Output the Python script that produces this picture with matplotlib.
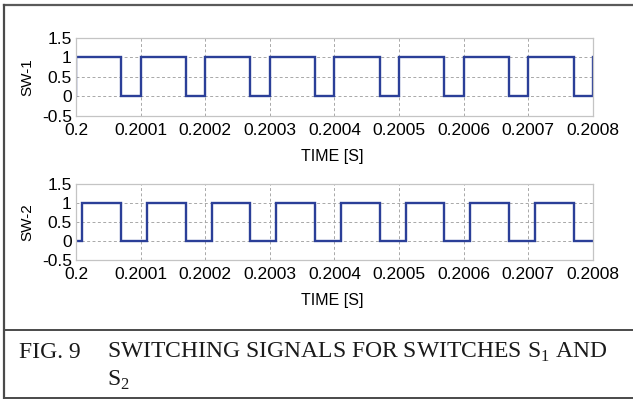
import matplotlib
matplotlib.use("Agg")
import matplotlib.pyplot as plt
from matplotlib.lines import Line2D

# ---- data ----
t_sw1 = [0.2, 0.2, 0.20007, 0.2001, 0.20017, 0.2002, 0.20027, 0.2003, 0.20037,
         0.2004, 0.20047, 0.2005, 0.20057, 0.2006, 0.20067, 0.2007, 0.20077, 0.2008]
v_sw1 = [0, 1, 0, 1, 0, 1, 0, 1, 0, 1, 0, 1, 0, 1, 0, 1, 0, 1]
t_sw2 = [0.2, 0.20001, 0.20007, 0.20011, 0.20017, 0.20021, 0.20027, 0.20031, 0.20037,
         0.20041, 0.20047, 0.20051, 0.20057, 0.20061, 0.20067, 0.20071, 0.20077, 0.2008]
v_sw2 = [0, 1, 0, 1, 0, 1, 0, 1, 0, 1, 0, 1, 0, 1, 0, 1, 0, 0]
x_ticks = [0.2, 0.2001, 0.2002, 0.2003, 0.2004, 0.2005, 0.2006, 0.2007, 0.2008]
x_tick_labels = ['0.2', '0.2001', '0.2002', '0.2003', '0.2004', '0.2005', '0.2006', '0.2007', '0.2008']
y_ticks = [-0.5, 0, 0.5, 1, 1.5]
y_tick_labels = ['-0.5', '0', '0.5', '1', '1.5']
y_labels = ['SW-1', 'SW-2']
x_label = 'TIME [S]'
caption_fig = 'FIG. 9'
caption_1 = r'SWITCHING SIGNALS FOR SWITCHES S$_\mathregular{1}$ AND'
caption_2 = r'S$_\mathregular{2}$'

W, H = 633, 399
plt.rcParams['font.family'] = ['Liberation Sans', 'DejaVu Sans']
plt.rcParams['mathtext.fontset'] = 'custom'
plt.rcParams['mathtext.rm'] = 'Liberation Serif'
fig = plt.figure(figsize=(W / 100, H / 100), dpi=100)
fig.patch.set_facecolor('white')

def fx(px):
    return px / W

def fy(py):
    return 1 - py / H

LINE = '#2b3f98'
positions = [(37.7, 116.0), (184.0, 260.0)]
series = [(t_sw1, v_sw1), (t_sw2, v_sw2)]

for i, ((top, bot), (t, v)) in enumerate(zip(positions, series)):
    ax = fig.add_axes([fx(76), fy(bot), fx(593) - fx(76), (bot - top) / H])
    ax.plot(t, v, drawstyle='steps-post', color=LINE, lw=1.7, solid_joinstyle='miter')
    ax.set_xlim(0.2, 0.2008)
    ax.set_ylim(-0.5, 1.5)
    ax.set_xticks(x_ticks)
    ax.set_xticklabels(x_tick_labels)
    ax.set_yticks(y_ticks)
    ax.set_yticklabels(y_tick_labels)
    ax.tick_params(axis='both', length=0, labelsize=12.5, colors='black')
    ax.tick_params(axis='x', pad=5)
    ax.tick_params(axis='y', pad=3)
    ax.grid(True, color='#a8a8a8', linestyle=(0, (3, 2.5)), linewidth=0.7)
    for s in ax.spines.values():
        s.set_color('#c4c4c4')
        s.set_linewidth(0.9)
    ax.set_ylabel(y_labels[i], fontsize=11)
    ax.yaxis.set_label_coords(-(76 - 34) / (593 - 76), 0.5)
    fig.text(fx(332), fy(156.5 + (bot - 116.0)), x_label,
             family=['Liberation Sans Narrow', 'Liberation Sans'],
             fontsize=11.5, ha='center', va='center')

# frame lines
frame_c = '#4a4a4a'
fig.add_artist(Line2D([fx(4), 1], [fy(5), fy(5)], color='#5a5a5a', lw=1.6))
fig.add_artist(Line2D([fx(4), fx(4)], [fy(5), fy(398)], color=frame_c, lw=1.6))
fig.add_artist(Line2D([fx(4), 1], [fy(330), fy(330)], color=frame_c, lw=1.4))
fig.add_artist(Line2D([fx(4), 1], [fy(398), fy(398)], color=frame_c, lw=1.4))

cap_kw = dict(family='Liberation Serif', fontsize=17, ha='left', va='baseline', color='#1a1a1a')
fig.text(fx(19), fy(358), caption_fig, **cap_kw)
fig.text(fx(107), fy(358), caption_1, **cap_kw)
fig.text(fx(107), fy(386), caption_2, **cap_kw)

fig.savefig('out.png', dpi=100, facecolor='white')
